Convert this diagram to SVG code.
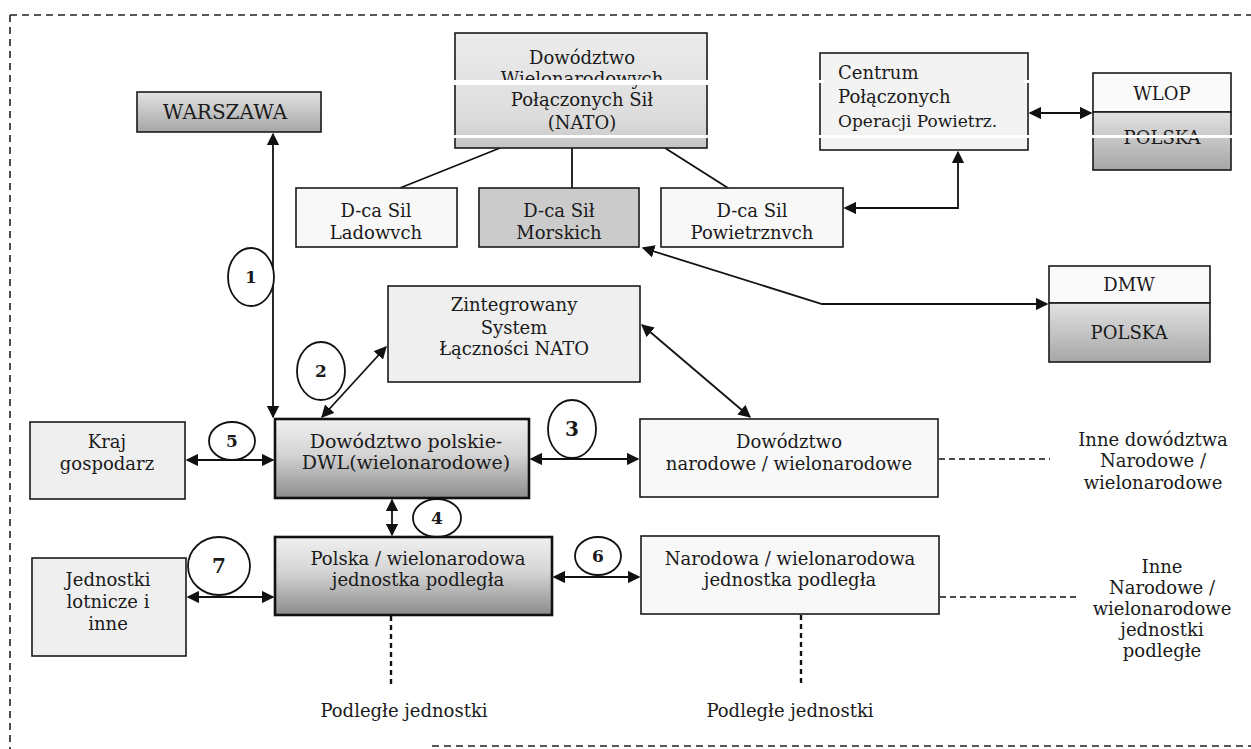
<svg xmlns="http://www.w3.org/2000/svg" width="1251" height="749" viewBox="0 0 1251 749">
  <style>
    text { font-family: "DejaVu Serif", "Liberation Serif", serif; font-size: 18px; fill: #1a1a1a; }
    .c { text-anchor: middle; }
    .box { stroke: #1a1a1a; stroke-width: 1.6; }
    .thick { stroke: #111; stroke-width: 2.6; }
    .light { fill: #efefef; }
    .white { fill: #f8f8f8; }
    .conn { stroke: #111; stroke-width: 1.8; fill: none; }
    .both { marker-start: url(#ah); marker-end: url(#ah); }
    .dash { stroke: #111; stroke-width: 1.4; stroke-dasharray: 6 4; fill: none; }
    .dots { stroke: #111; stroke-width: 2.4; stroke-dasharray: 5 4; fill: none; }
    .frame { stroke: #222; stroke-width: 1.6; stroke-dasharray: 7 5; fill: none; }
    .ring { fill: #fff; stroke: #111; stroke-width: 1.8; }
    .num { font-size: 17px; font-weight: bold; }
  </style>
  <defs>
    <marker id="ah" viewBox="0 0 10 10" refX="9" refY="5" markerWidth="7" markerHeight="7" orient="auto-start-reverse" markerUnits="strokeWidth">
      <path d="M0,0 L10,5 L0,10 z" fill="#111"/>
    </marker>
    <linearGradient id="shadeDark" x1="0" y1="0" x2="0" y2="1">
      <stop offset="0" stop-color="#f0f0f0"/>
      <stop offset="0.45" stop-color="#d4d4d4"/>
      <stop offset="1" stop-color="#8c8c8c"/>
    </linearGradient>
    <linearGradient id="shadeMid" x1="0" y1="0" x2="0" y2="1">
      <stop offset="0" stop-color="#e2e2e2"/>
      <stop offset="1" stop-color="#a6a6a6"/>
    </linearGradient>
    <linearGradient id="shadeSoft" x1="0" y1="0" x2="0" y2="1">
      <stop offset="0" stop-color="#ececec"/>
      <stop offset="0.75" stop-color="#dcdcdc"/>
      <stop offset="1" stop-color="#c4c4c4"/>
    </linearGradient>
  </defs>

  <!-- outer dashed frame -->
  <g id="frame">
    <line class="frame" x1="10" y1="15" x2="1251" y2="15"/>
    <line class="frame" x1="10" y1="15" x2="10" y2="749"/>
    <line class="frame" x1="432" y1="746" x2="1251" y2="746"/>
  </g>

  <!-- connectors -->
  <g id="connectors">
    <line class="conn both" x1="273" y1="134" x2="273" y2="417"/>
    <line class="conn" x1="500" y1="148" x2="400" y2="188"/>
    <line class="conn" x1="572" y1="148" x2="572" y2="188"/>
    <line class="conn" x1="665" y1="148" x2="728" y2="188"/>
    <line class="conn both" x1="1030" y1="113" x2="1091" y2="113"/>
    <path class="conn both" d="M845,208 H958 V152"/>
    <path class="conn both" d="M643,248 L822,304 H1047"/>
    <line class="conn both" x1="386" y1="347" x2="322" y2="417"/>
    <line class="conn both" x1="642" y1="325" x2="750" y2="417"/>
    <line class="conn both" x1="187" y1="460" x2="273" y2="460"/>
    <line class="conn both" x1="531" y1="459" x2="638" y2="459"/>
    <line class="conn both" x1="392" y1="500" x2="392" y2="535"/>
    <line class="conn both" x1="188" y1="597" x2="273" y2="597"/>
    <line class="conn both" x1="554" y1="577" x2="639" y2="577"/>
    <line class="dash" x1="939" y1="459" x2="1050" y2="459"/>
    <line class="dash" x1="940" y1="597" x2="1077" y2="597"/>
    <line class="dots" x1="391" y1="616" x2="391" y2="688"/>
    <line class="dots" x1="801" y1="615" x2="801" y2="686"/>
  </g>

  <!-- numbered rings -->
  <g id="ring1"><ellipse class="ring" cx="251" cy="277" rx="23" ry="29"/><text class="c num" x="251" y="283">1</text></g>
  <g id="ring2"><ellipse class="ring" cx="321" cy="371" rx="24" ry="29"/><text class="c num" x="321" y="377">2</text></g>
  <g id="ring3"><ellipse class="ring" cx="572" cy="429" rx="24" ry="29"/><text class="c num" x="572" y="436" style="font-size:20px">3</text></g>
  <g id="ring4"><ellipse class="ring" cx="437" cy="518" rx="24" ry="19"/><text class="c num" x="437" y="524">4</text></g>
  <g id="ring5"><ellipse class="ring" cx="232" cy="441" rx="23" ry="19"/><text class="c num" x="232" y="447">5</text></g>
  <g id="ring6"><ellipse class="ring" cx="598" cy="556" rx="23" ry="19"/><text class="c num" x="598" y="562">6</text></g>
  <g id="ring7"><ellipse class="ring" cx="219" cy="566" rx="31" ry="29"/><text class="c num" x="219" y="573" style="font-size:20px">7</text></g>

  <!-- nodes -->
  <g id="warszawa">
    <rect class="box" x="137" y="92" width="184" height="40" fill="url(#shadeMid)"/>
    <text class="c" x="225" y="119" style="font-size:20px">WARSZAWA</text>
  </g>

  <g id="nato">
    <rect class="box" x="455" y="33" width="252" height="115" fill="url(#shadeSoft)"/>
    <text class="c" x="582" y="64">Dowództwo</text>
    <text class="c" x="582" y="85">Wielonarodowych</text>
    <text class="c" x="582" y="106">Połączonych Sił</text>
    <text class="c" x="582" y="129">(NATO)</text>
  </g>

  <g id="centrum">
    <rect class="box" x="820" y="53" width="208" height="97" fill="#f3f3f3"/>
    <text x="838" y="79">Centrum</text>
    <text x="838" y="103">Połączonych</text>
    <text x="838" y="127" style="font-size:17px">Operacji Powietrz.</text>
  </g>

  <g id="wlop">
    <rect class="box" x="1093" y="73" width="138" height="39" fill="#fafafa"/>
    <rect class="box" x="1093" y="112" width="138" height="58" fill="url(#shadeMid)"/>
    <text class="c" x="1162" y="100">WLOP</text>
    <text class="c" x="1162" y="144">POLSKA</text>
  </g>

  <g id="ladowych">
    <rect class="box white" x="296" y="188" width="161" height="59"/>
    <text class="c" x="376" y="217">D-ca Sil</text>
    <text class="c" x="376" y="239">Ladowvch</text>
  </g>

  <g id="morskich">
    <rect class="box" x="479" y="188" width="160" height="59" fill="#cbcbcb"/>
    <text class="c" x="559" y="217">D-ca Sił</text>
    <text class="c" x="559" y="239">Morskich</text>
  </g>

  <g id="powietrznych">
    <rect class="box white" x="661" y="188" width="182" height="59"/>
    <text class="c" x="752" y="217">D-ca Sil</text>
    <text class="c" x="752" y="239">Powietrznvch</text>
  </g>

  <g id="dmw">
    <rect class="box" x="1049" y="266" width="161" height="37" fill="#fafafa"/>
    <rect class="box" x="1049" y="303" width="161" height="59" fill="url(#shadeMid)"/>
    <text class="c" x="1129" y="291">DMW</text>
    <text class="c" x="1129" y="339">POLSKA</text>
  </g>

  <g id="zintegrowany">
    <rect class="box light" x="388" y="286" width="252" height="96"/>
    <text class="c" x="514" y="311">Zintegrowany</text>
    <text class="c" x="514" y="334">System</text>
    <text class="c" x="514" y="355">Łączności NATO</text>
  </g>

  <g id="kraj">
    <rect class="box light" x="30" y="422" width="155" height="77"/>
    <text class="c" x="107" y="448">Kraj</text>
    <text class="c" x="107" y="470">gospodarz</text>
  </g>

  <g id="dowodztwo-polskie">
    <rect class="thick" x="275" y="419" width="254" height="79" fill="url(#shadeDark)"/>
    <text class="c" x="406" y="448" style="font-size:19px">Dowództwo polskie-</text>
    <text class="c" x="406" y="469" style="font-size:19px">DWL(wielonarodowe)</text>
  </g>

  <g id="dowodztwo-narodowe">
    <rect class="box white" x="640" y="419" width="298" height="78"/>
    <text class="c" x="789" y="448">Dowództwo</text>
    <text class="c" x="789" y="470">narodowe / wielonarodowe</text>
  </g>

  <g id="inne-dowodztwa">
    <text class="c" x="1153" y="446">Inne dowództwa</text>
    <text class="c" x="1153" y="467">Narodowe /</text>
    <text class="c" x="1153" y="489">wielonarodowe</text>
  </g>

  <g id="jednostki-lotnicze">
    <rect class="box light" x="32" y="558" width="154" height="98"/>
    <text class="c" x="108" y="586">Jednostki</text>
    <text class="c" x="108" y="608">lotnicze i</text>
    <text class="c" x="108" y="630">inne</text>
  </g>

  <g id="polska-jednostka">
    <rect class="thick" x="275" y="537" width="277" height="78" fill="url(#shadeDark)"/>
    <text class="c" x="418" y="565">Polska / wielonarodowa</text>
    <text class="c" x="418" y="586">jednostka podległa</text>
  </g>

  <g id="narodowa-jednostka">
    <rect class="box white" x="641" y="536" width="298" height="78"/>
    <text class="c" x="790" y="565">Narodowa / wielonarodowa</text>
    <text class="c" x="790" y="586">jednostka podległa</text>
  </g>

  <g id="inne-jednostki">
    <text class="c" x="1162" y="573">Inne</text>
    <text class="c" x="1162" y="594">Narodowe /</text>
    <text class="c" x="1162" y="615">wielonarodowe</text>
    <text class="c" x="1162" y="636">jednostki</text>
    <text class="c" x="1162" y="657">podległe</text>
  </g>

  <g id="podlegle-1"><text class="c" x="404" y="717">Podległe jednostki</text></g>
  <g id="podlegle-2"><text class="c" x="790" y="717">Podległe jednostki</text></g>

  <!-- light horizontal bands breaking the upper boxes -->
  <g id="bands" fill="#ffffff">
    <rect x="450" y="80" width="262" height="5"/>
    <rect x="816" y="80" width="8" height="3"/>
    <rect x="1024" y="80" width="8" height="3"/>
    <rect x="450" y="135" width="790" height="3"/>
  </g>
</svg>
